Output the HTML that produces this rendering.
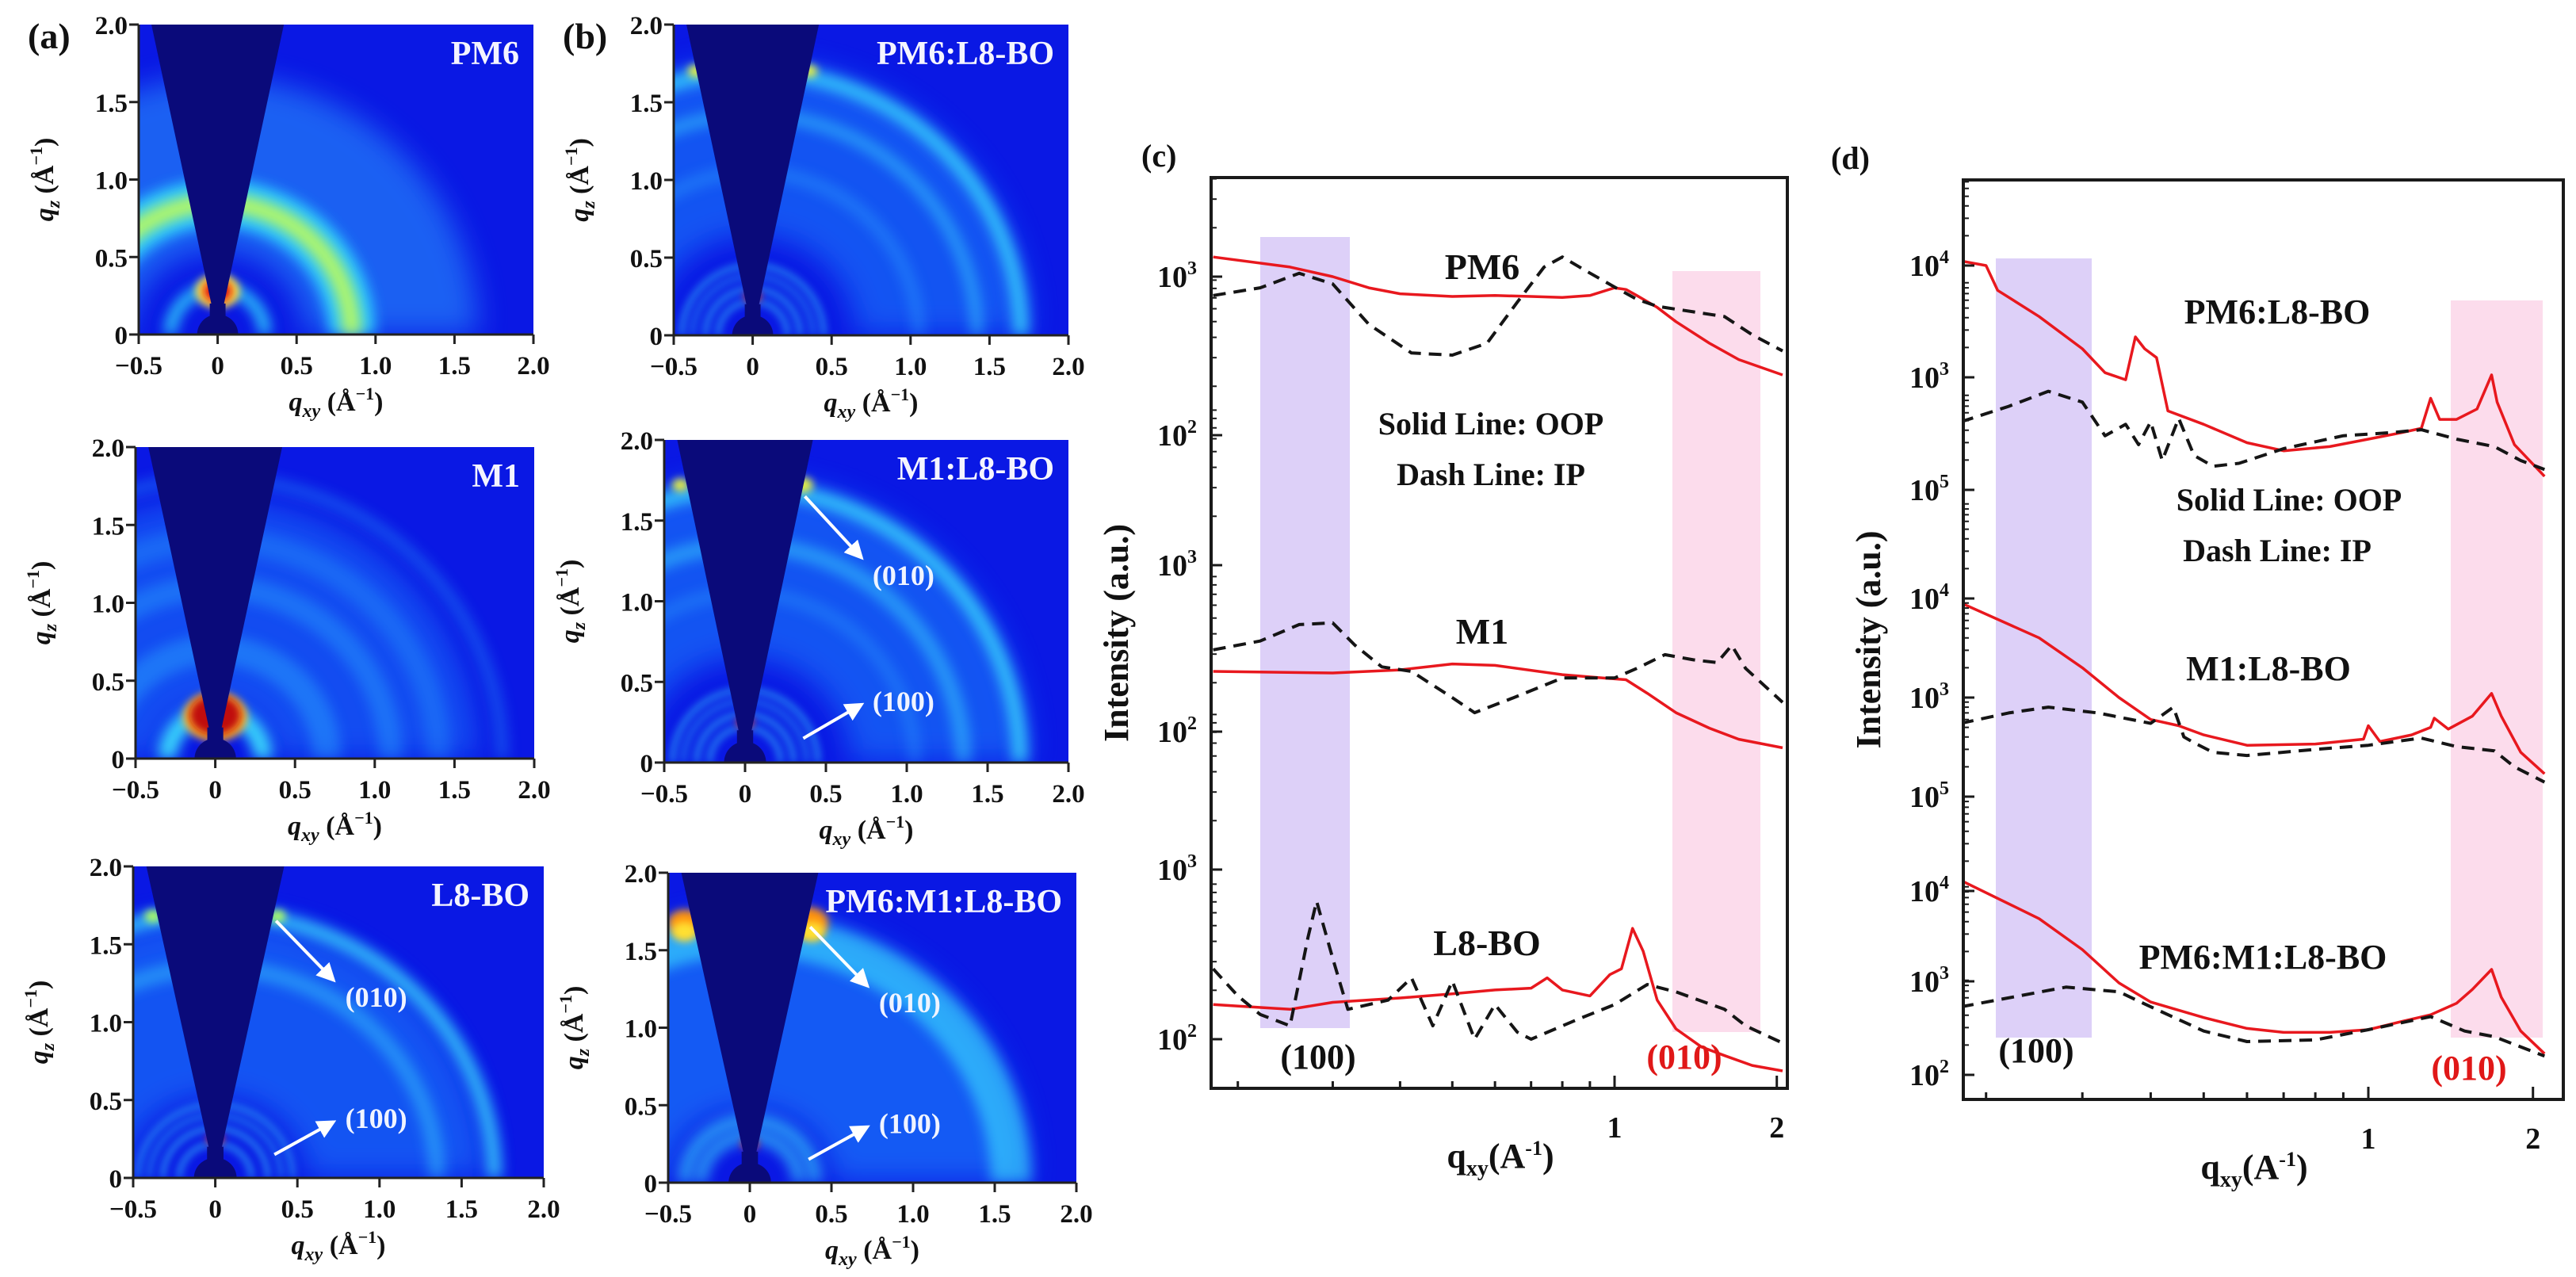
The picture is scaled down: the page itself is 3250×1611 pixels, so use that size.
<!DOCTYPE html>
<html><head><meta charset="utf-8">
<style>
html,body{margin:0;padding:0;background:#fff;width:3250px;height:1611px;overflow:hidden;}
svg{display:block;font-family:"Liberation Serif",serif;font-weight:bold;}
</style></head>
<body>
<svg id="fig" width="3250" height="1611" viewBox="0 0 3250 1611" xmlns="http://www.w3.org/2000/svg" style="overflow:hidden">
<defs>
<filter id="blur8" filterUnits="userSpaceOnUse" x="0" y="0" width="3250" height="1611"><feGaussianBlur stdDeviation="8"/></filter>
<filter id="blur4" filterUnits="userSpaceOnUse" x="0" y="0" width="3250" height="1611"><feGaussianBlur stdDeviation="5"/></filter>
<filter id="blur16" filterUnits="userSpaceOnUse" x="0" y="0" width="3250" height="1611"><feGaussianBlur stdDeviation="18"/></filter>
<marker id="arrowhead" markerWidth="6" markerHeight="6" refX="5" refY="3" orient="auto" markerUnits="strokeWidth"><path d="M0,0 L6,3 L0,6 z" fill="#fff"/></marker>
</defs>
</svg>
<script>
// ---------- panel (c) data ----------
const cPM6_q_oop = [0.18,0.25,0.3,0.35,0.4,0.5,0.6,0.7,0.8,0.9,1.0,1.05,1.1,1.2,1.3,1.5,1.7,2.05];
const cPM6_oop   = [1330,1150,1000,850,780,750,760,750,740,760,850,830,760,640,520,380,300,240];
const cPM6_q_ip  = [0.18,0.22,0.26,0.3,0.35,0.42,0.5,0.58,0.66,0.74,0.8,0.88,1.0,1.1,1.2,1.4,1.6,1.8,2.05];
const cPM6_ip    = [760,850,1050,900,500,330,320,380,690,1150,1330,1100,860,720,650,600,560,430,340];
const cM1_q_oop  = [0.18,0.3,0.4,0.5,0.6,0.8,0.95,1.05,1.15,1.3,1.5,1.7,2.05];
const cM1_oop    = [230,225,235,255,250,220,210,205,170,130,105,90,80];
const cM1_q_ip   = [0.18,0.22,0.26,0.3,0.33,0.37,0.42,0.5,0.55,0.65,0.8,1.0,1.1,1.24,1.4,1.55,1.65,1.75,2.05];
const cM1_ip     = [310,350,440,450,330,245,230,160,130,160,210,210,240,290,270,260,330,240,150];
const cL8_q_oop  = [0.18,0.25,0.3,0.4,0.5,0.6,0.7,0.75,0.8,0.9,0.98,1.03,1.08,1.13,1.2,1.3,1.45,1.6,1.8,2.05];
const cL8_oop    = [160,150,165,175,185,195,200,230,195,180,240,260,450,330,170,115,90,80,70,65];
const cL8_q_ip   = [0.18,0.2,0.22,0.25,0.27,0.28,0.3,0.32,0.38,0.42,0.46,0.5,0.55,0.6,0.66,0.7,0.85,1.0,1.15,1.3,1.6,1.75,2.05];
const cL8_ip     = [260,180,140,120,400,650,300,150,170,230,120,220,100,160,110,100,130,160,210,190,150,120,95];
// ---------- panel (d) data ----------
const dPL_q_oop = [0.18,0.2,0.21,0.25,0.3,0.33,0.36,0.375,0.39,0.41,0.43,0.5,0.6,0.7,0.85,1.0,1.15,1.25,1.3,1.35,1.45,1.58,1.68,1.72,1.85,2.1];
const dPL_oop   = [11000,10000,6000,3500,1800,1100,950,2300,1800,1500,500,380,260,220,240,280,320,350,650,420,420,520,1050,600,250,130];
const dPL_q_ip  = [0.18,0.22,0.26,0.3,0.33,0.36,0.38,0.4,0.42,0.45,0.48,0.52,0.58,0.7,0.9,1.1,1.25,1.45,1.7,1.9,2.1];
const dPL_ip    = [400,550,750,600,300,380,250,400,180,430,200,160,170,230,300,320,340,280,240,180,150];
const dML_q_oop = [0.18,0.25,0.3,0.35,0.4,0.45,0.5,0.6,0.8,0.98,1.0,1.05,1.2,1.3,1.32,1.4,1.55,1.68,1.75,1.9,2.1];
const dML_oop   = [9000,4000,2000,1000,600,520,420,330,340,380,520,360,420,500,620,480,650,1100,650,280,170];
const dML_q_ip  = [0.18,0.22,0.26,0.32,0.4,0.44,0.46,0.48,0.52,0.6,0.8,1.0,1.25,1.45,1.7,1.85,2.1];
const dML_ip    = [550,700,800,700,550,800,400,350,280,260,300,330,390,320,290,200,140];
const dPML_q_oop = [0.18,0.25,0.3,0.35,0.4,0.5,0.6,0.7,0.85,1.0,1.15,1.3,1.45,1.55,1.68,1.75,1.9,2.1];
const dPML_oop   = [13000,5000,2300,1000,620,420,320,290,290,310,380,450,600,850,1400,700,300,170];
const dPML_q_ip  = [0.18,0.28,0.35,0.4,0.5,0.6,0.8,1.0,1.3,1.5,1.7,2.1];
const dPML_ip    = [550,900,800,550,300,230,240,310,430,300,260,160];
// tick labels
const xTickLabelsMap = ["-0.5","0","0.5","1.0","1.5","2.0"];
const xTickValuesMap = [-0.5,0,0.5,1.0,1.5,2.0];
const yTickValuesMap = [0,0.5,1.0,1.5,2.0];
const yTickLabelsMap = ["0","0.5","1.0","1.5","2.0"];
const cYTickExp = ["3","2","3","2","3","2"];
const dYTickExp = ["4","3","5","4","3","5","4","3","2"];

const NS="http://www.w3.org/2000/svg";
const svg=document.getElementById('fig');
function mk(tag,attrs,parent){const e=document.createElementNS(NS,tag);for(const k in attrs)e.setAttribute(k,attrs[k]);(parent||svg).appendChild(e);return e;}
function txt(str,attrs,parent){const e=mk('text',attrs,parent);e.textContent=str;return e;}

// ================= GIWAXS maps =================
const maps=[
 {id:'pm6',L:175,R:673,T:31,B:422,title:'PM6',tag:'(a)'},
 {id:'pm6-l8bo',L:850,R:1348,T:31,B:423,title:'PM6:L8-BO',tag:'(b)'},
 {id:'m1',L:171,R:674,T:564,B:957,title:'M1'},
 {id:'m1-l8bo',L:838,R:1348,T:555,B:962,title:'M1:L8-BO',arrows:true},
 {id:'l8bo',L:168,R:686,T:1093,B:1486,title:'L8-BO',arrows:true},
 {id:'pm6-m1-l8bo',L:843,R:1358,T:1101,B:1492,title:'PM6:M1:L8-BO',arrows:true}
];
const ringsByMap={
 'pm6':[[1.1,1.1,'#2a9cff',0.55],[0.85,0.3,'#30e0ff',0.8],[0.85,0.12,'#c8ff50',0.85],[0.3,0.08,'#30e8ff',0.8]],
 'pm6-l8bo':[[1.2,1.1,'#1f86ff',0.55],[1.7,0.1,'#40f0ff',0.7],[1.42,0.08,'#40e8ff',0.45],[1.05,0.08,'#2fa8ff',0.4],[0.45,0.03,'#40e8ff',0.6],[0.38,0.03,'#40e8ff',0.45],[0.3,0.03,'#40e8ff',0.6],[0.22,0.03,'#40e8ff',0.6]],
 'm1':[[1.0,1.3,'#1a80ff',0.5],[0.7,0.18,'#2aa8ff',0.45],[1.1,0.15,'#2aa8ff',0.4],[1.4,0.15,'#2aa8ff',0.3],[1.8,0.08,'#2aa8ff',0.35],[0.3,0.12,'#40f0ff',0.85]],
 'm1-l8bo':[[1.2,1.1,'#1f86ff',0.55],[1.7,0.1,'#40f0ff',0.7],[1.35,0.1,'#40e8ff',0.45],[1.05,0.08,'#2fa8ff',0.35],[0.45,0.03,'#40e8ff',0.6],[0.38,0.03,'#40e8ff',0.45],[0.3,0.03,'#40e8ff',0.6],[0.22,0.03,'#40e8ff',0.6]],
 'l8bo':[[1.1,1.1,'#1f86ff',0.55],[1.7,0.09,'#40f0ff',0.7],[1.35,0.1,'#40e8ff',0.4],[0.47,0.025,'#40e8ff',0.6],[0.4,0.025,'#40e8ff',0.55],[0.32,0.03,'#40e8ff',0.6],[0.22,0.03,'#40e8ff',0.6]],
 'pm6-m1-l8bo':[[1.1,1.2,'#1f86ff',0.6],[1.6,0.25,'#40f0ff',0.55],[0.4,0.08,'#40e8ff',0.6],[0.3,0.08,'#40e8ff',0.6]]
};
const hotByMap={
 'pm6':[[0,0.28,0.14,'#ffe040'],[0,0.28,0.09,'#e01010']],
 'pm6-l8bo':[[-0.36,1.7,0.05,'#e8f040'],[0.36,1.7,0.05,'#e8f040'],[0,0.25,0.05,'#e02010']],
 'm1':[[0,0.27,0.2,'#ffb020'],[0,0.28,0.16,'#c00808']],
 'm1-l8bo':[[-0.4,1.72,0.05,'#e8f040'],[0.36,1.72,0.06,'#e8f040'],[0,0.25,0.05,'#e02010']],
 'l8bo':[[-0.38,1.68,0.05,'#b0ff60'],[0.38,1.68,0.05,'#b0ff60'],[0,0.25,0.05,'#e02010']],
 'pm6-m1-l8bo':[[-0.4,1.68,0.1,'#ff9010'],[0.36,1.68,0.12,'#ff9010'],[-0.4,1.62,0.08,'#ffe030'],[0.38,1.62,0.08,'#ffe030'],[0,0.25,0.05,'#e02010']]
};

maps.forEach((m,i)=>{
  const sx=(m.R-m.L)/2.5, sy=(m.B-m.T)/2;
  const X=q=>m.L+(q+0.5)*sx, Y=q=>m.B-q*sy;
  const g=mk('g',{});
  
  
  const cp=mk('clipPath',{id:'clip-'+m.id},svg.querySelector('defs'));
  mk('rect',{x:m.L,y:m.T,width:m.R-m.L,height:m.B-m.T},cp);
  const inner=mk('g',{'clip-path':'url(#clip-'+m.id+')'},g);
  const bg=mk('rect',{x:m.L,y:m.T,width:m.R-m.L,height:m.B-m.T,fill:'#0a18e4'},inner);
  
  
  ringsByMap[m.id].forEach(r=>{
    const f=r[1]>0.5?'url(#blur16)':(r[1]>=0.08?'url(#blur8)':'url(#blur4)');
    const rx=r[0]*sx, ry=r[0]*sy, cx=X(0), cy=Y(0);
    const c=mk('path',{d:`M${cx-rx},${cy} A${rx},${ry} 0 0 1 ${cx+rx},${cy}`,fill:'none',stroke:r[2],'stroke-width':r[1]*sx,opacity:r[3],filter:f},inner);
    
    
  });
  hotByMap[m.id].forEach(h=>{
    const c=mk('ellipse',{cx:X(h[0]),cy:Y(h[1]),rx:h[2]*sx,ry:h[2]*sy*0.8,fill:h[3],filter:'url(#blur4)'},inner);
    
    
  });
  const w=mk('path',{d:`M${X(-0.03)},${Y(0.15)} L${X(-0.43)},${Y(2.05)} L${X(0.43)},${Y(2.05)} L${X(0.03)},${Y(0.15)} Z`,fill:'#0a0a7a'},inner);
  
  
  const rx0=0.13*sx, ry0=0.13*sy;
  const bs=mk('path',{d:`M${X(0)-rx0},${Y(0)} A${rx0},${ry0} 0 0 1 ${X(0)+rx0},${Y(0)} Z`,fill:'#0a0a7a'},inner);
  
  
  mk('rect',{x:X(-0.05),y:Y(0.2),width:0.1*sx,height:0.2*sy,fill:'#0a0a7a'},inner);
  const ax=mk('path',{d:`M${m.L},${m.T} L${m.L},${m.B} L${m.R},${m.B}`,fill:'none',stroke:'#222',"stroke-width":3},g);
  
  
  xTickValuesMap.forEach((v,k)=>{
    mk('line',{x1:X(v),x2:X(v),y1:m.B,y2:m.B+12,stroke:'#222','stroke-width':3},g);
    const t=txt(xTickLabelsMap[k].replace('-','\u2212'),{x:X(v),y:m.B+50,'text-anchor':'middle','font-size':33,fill:'#111'},g);
    
    
  });
  yTickValuesMap.forEach((v,k)=>{
    mk('line',{x1:m.L-12,x2:m.L,y1:Y(v),y2:Y(v),stroke:'#222','stroke-width':3},g);
    const t=txt(yTickLabelsMap[k],{x:m.L-14,y:Y(v)+12,'text-anchor':'end','font-size':33,fill:'#111'},g);
    
    
  });
  const xl=mk('text',{x:(m.L+m.R)/2,y:m.B+96,'text-anchor':'middle','font-size':34,fill:'#111'},g);
  
  
  xl.innerHTML='<tspan font-style="italic">q</tspan><tspan font-style="italic" font-size="24" dy="8">xy</tspan><tspan dy="-8"> (Å</tspan><tspan font-size="22" dy="-14">−1</tspan><tspan dy="14">)</tspan>';
  const yl=mk('text',{transform:`translate(${m.L-108},${(m.T+m.B)/2}) rotate(-90)`,'text-anchor':'middle','font-size':34,fill:'#111'},g);
  
  
  yl.innerHTML='<tspan font-style="italic">q</tspan><tspan font-style="italic" font-size="24" dy="8">z</tspan><tspan dy="-8"> (Å</tspan><tspan font-size="22" dy="-14">−1</tspan><tspan dy="14">)</tspan>';
  const tt=txt(m.title,{x:m.R-18,y:m.T+50,'text-anchor':'end','font-size':42,fill:'#f4f4ff'},g);
  
  
  if(m.tag){
    const pl=txt(m.tag,{x:m.L-140,y:m.T+30,'font-size':46,fill:'#111','font-weight':'bold'},g);
    
    
  }
  if(m.arrows){
    const a1=mk('line',{x1:X(0.37),y1:Y(1.65),x2:X(0.72),y2:Y(1.27),stroke:'#fff','stroke-width':4,'marker-end':'url(#arrowhead)'},g);
    
    
    const l1=txt('(010)',{x:X(0.98),y:Y(1.1),'text-anchor':'middle','font-size':36,fill:'#f0f4ff'},g);
    
    
    const a2=mk('line',{x1:X(0.36),y1:Y(0.15),x2:X(0.72),y2:Y(0.36),stroke:'#fff','stroke-width':4,'marker-end':'url(#arrowhead)'},g);
    
    
    const l2=txt('(100)',{x:X(0.98),y:Y(0.32),'text-anchor':'middle','font-size':36,fill:'#f0f4ff'},g);
    
    
  }
});

// ================= line-cut panels =================
function linePanel(P){
  const g=mk('g',{});
  
  
  const X=q=>P.x1+Math.log10(q)*P.ppd;
  const cp=mk('clipPath',{id:'clip-'+P.id},svg.querySelector('defs'));
  mk('rect',{x:P.L,y:P.T,width:P.R-P.L,height:P.B-P.T},cp);
  const inner=mk('g',{'clip-path':'url(#clip-'+P.id+')'},g);
  const b1=mk('rect',{x:P.band1[0],y:P.band1[2],width:P.band1[1]-P.band1[0],height:P.band1[3]-P.band1[2],fill:'#ddd0f8'},inner);
  
  
  const b2=mk('rect',{x:P.band2[0],y:P.band2[2],width:P.band2[1]-P.band2[0],height:P.band2[3]-P.band2[2],fill:'#fcdcec'},inner);
  
  
  P.series.forEach(s=>{
    const Y=v=>s.y0-(Math.log10(v)-s.e0)*s.ppd;
    const d=s.q.map((q,k)=>(k?'L':'M')+X(q).toFixed(1)+','+Y(s.v[k]).toFixed(1)).join(' ');
    const p=mk('path',{d:d,fill:'none',stroke:s.ip?'#151515':'#e8181e','stroke-width':s.ip?4:3.5,'stroke-dasharray':s.ip?'16,10':'none','stroke-linejoin':'round'},inner);
    
    
  });
  const fr=mk('rect',{x:P.L,y:P.T,width:P.R-P.L,height:P.B-P.T,fill:'none',stroke:'#1a1a1a','stroke-width':4},g);
  
  
  const minors=[0.2,0.3,0.4,0.5,0.6,0.7,0.8,0.9,1,2];
  minors.forEach(q=>{const xx=X(q);if(xx<P.L||xx>P.R)return;mk('line',{x1:xx,x2:xx,y1:P.B,y2:P.B-(q===1||q===2?16:9),stroke:'#1a1a1a','stroke-width':3},g);});
  [[1,'1'],[2,'2']].forEach(t=>{
    const l=txt(t[1],{x:X(t[0]),y:P.B+62,'text-anchor':'middle','font-size':38,fill:'#111'},g);
    
    
  });
  P.yticks.forEach((y,k)=>{
    mk('line',{x1:P.L,x2:P.L+14,y1:y,y2:y,stroke:'#1a1a1a','stroke-width':3},g);
    for(let j=1;j<9;j++){const yy=y-Math.log10(1+j)*P.tickppd;if(yy>P.T)mk('line',{x1:P.L,x2:P.L+7,y1:yy,y2:yy,stroke:'#1a1a1a','stroke-width':2},g);}
    const l=mk('text',{x:P.L-18,y:y+13,'text-anchor':'end','font-size':38,fill:'#111'},g);
    
    
    l.innerHTML='10<tspan font-size="24" dy="-16">'+P.exps[k]+'</tspan>';
  });
  const yl=txt('Intensity (a.u.)',{transform:`translate(${P.L-105},${(P.T+P.B)/2}) rotate(-90)`,'text-anchor':'middle','font-size':44,fill:'#111'},g);
  
  
  const xl=mk('text',{x:P.xlx,y:P.B+100,'text-anchor':'middle','font-size':44,fill:'#111'},g);
  
  
  xl.innerHTML='q<tspan font-size="28" dy="10">xy</tspan><tspan dy="-10">(A</tspan><tspan font-size="26" dy="-16">-1</tspan><tspan dy="16">)</tspan>';
  const pl=txt(P.tag,{x:P.tagx,y:P.T-14,'font-size':40,fill:'#111'},g);
  
  
  P.labels.forEach(a=>{
    const t=txt(a[0],{x:a[1],y:a[2],'text-anchor':'middle','font-size':a[3]||42,fill:a[4]||'#111'},g);
    
    
  });
}

linePanel({id:'c',tag:'(c)',tagx:1440,L:1528,R:2255,T:224,B:1373,x1:2037,ppd:680,xlx:1893,
  band1:[1590,1703,299,1297],band2:[2110,2221,342,1302],
  yticks:[349,549,713,923,1097,1311],exps:cYTickExp,tickppd:205,
  series:[
    {name:'pm6-oop',q:cPM6_q_oop,v:cPM6_oop,y0:349,e0:3,ppd:200},
    {name:'pm6-ip',ip:true,q:cPM6_q_ip,v:cPM6_ip,y0:349,e0:3,ppd:200},
    {name:'m1-oop',q:cM1_q_oop,v:cM1_oop,y0:713,e0:3,ppd:210},
    {name:'m1-ip',ip:true,q:cM1_q_ip,v:cM1_ip,y0:713,e0:3,ppd:210},
    {name:'l8bo-oop',q:cL8_q_oop,v:cL8_oop,y0:1097,e0:3,ppd:214},
    {name:'l8bo-ip',ip:true,q:cL8_q_ip,v:cL8_ip,y0:1097,e0:3,ppd:214}],
  labels:[['PM6',1870,352,46,null,'label-pm6'],['Solid Line: OOP',1881,548,40,null,'legend-solid'],['Dash Line: IP',1881,612,40,null,'legend-dash'],
    ['M1',1870,812,46,null,'label-m1'],['L8-BO',1876,1205,46,null,'label-l8bo'],['(100)',1663,1348,44,null,'label-100'],['(010)',2125,1348,44,'#e01818','label-010']]
});
linePanel({id:'d',tag:'(d)',tagx:2310,L:2477,R:3234,T:227,B:1387,x1:2988,ppd:690,xlx:2844,
  band1:[2518,2639,326,1309],band2:[3092,3208,379,1309],
  yticks:[335,476,618,755,880,1005,1124,1238,1356],exps:dYTickExp,tickppd:125,
  series:[
    {name:'pm6-l8bo-oop',q:dPL_q_oop,v:dPL_oop,y0:335,e0:4,ppd:141},
    {name:'pm6-l8bo-ip',ip:true,q:dPL_q_ip,v:dPL_ip,y0:335,e0:4,ppd:141},
    {name:'m1-l8bo-oop',q:dML_q_oop,v:dML_oop,y0:755,e0:4,ppd:125},
    {name:'m1-l8bo-ip',ip:true,q:dML_q_ip,v:dML_ip,y0:755,e0:4,ppd:125},
    {name:'pm6-m1-l8bo-oop',q:dPML_q_oop,v:dPML_oop,y0:1124,e0:4,ppd:116},
    {name:'pm6-m1-l8bo-ip',ip:true,q:dPML_q_ip,v:dPML_ip,y0:1124,e0:4,ppd:116}],
  labels:[['PM6:L8-BO',2873,408,44,null,'label-pm6-l8bo'],['Solid Line: OOP',2888,644,40,null,'legend-solid'],['Dash Line: IP',2873,708,40,null,'legend-dash'],
    ['M1:L8-BO',2862,858,44,null,'label-m1-l8bo'],['PM6:M1:L8-BO',2855,1222,44,null,'label-pm6-m1-l8bo'],['(100)',2569,1340,44,null,'label-100'],['(010)',3115,1362,44,'#e01818','label-010']]
});
</script>
</body></html>
